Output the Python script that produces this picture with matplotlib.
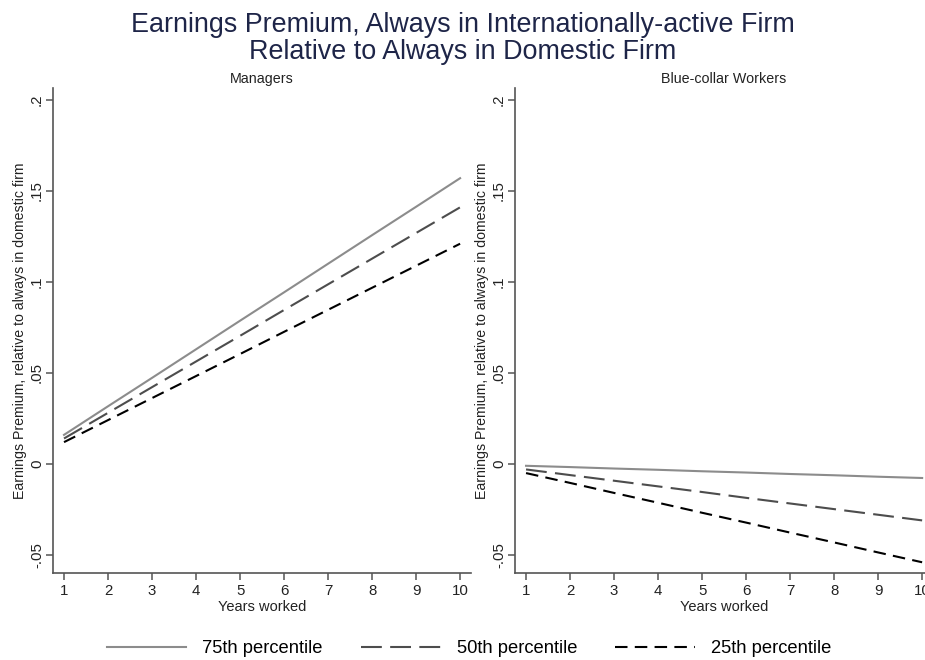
import matplotlib
matplotlib.use("Agg")
import matplotlib.pyplot as plt
from matplotlib.lines import Line2D

plt.rcParams['font.family'] = ['Liberation Sans', 'DejaVu Sans']

years = [1, 2, 3, 4, 5, 6, 7, 8, 9, 10]

# Managers
mgr_p75 = [0.0160, 0.0317, 0.0473, 0.0630, 0.0787, 0.0943, 0.1100, 0.1257, 0.1413, 0.1570]
mgr_p50 = [0.0140, 0.0281, 0.0422, 0.0563, 0.0704, 0.0846, 0.0987, 0.1128, 0.1269, 0.1410]
mgr_p25 = [0.0120, 0.0241, 0.0362, 0.0483, 0.0604, 0.0726, 0.0847, 0.0968, 0.1089, 0.1210]

# Blue-collar workers
blue_p75 = [-0.0010, -0.0017, -0.0025, -0.0032, -0.0040, -0.0047, -0.0055, -0.0062, -0.0070, -0.0077]
blue_p50 = [-0.0030, -0.0061, -0.0092, -0.0123, -0.0154, -0.0186, -0.0217, -0.0248, -0.0279, -0.0310]
blue_p25 = [-0.0050, -0.0104, -0.0159, -0.0213, -0.0268, -0.0322, -0.0377, -0.0431, -0.0486, -0.0540]

yticks = [-0.05, 0, 0.05, 0.1, 0.15, 0.2]
ytick_labels = ['-.05', '0', '.05', '.1', '.15', '.2']
series_labels = ['75th percentile', '50th percentile', '25th percentile']
panel_titles = ['Managers', 'Blue-collar Workers']

styles = [
    dict(color='#8c8c8c', linestyle='-', linewidth=1.5),
    dict(color='#4d4d4d', linestyle=(0, (10, 4)), linewidth=1.5),
    dict(color='#000000', linestyle=(0, (6, 3.5)), linewidth=1.5),
]

fig = plt.figure(figsize=(9.25, 6.6), dpi=100)
fig.patch.set_facecolor('white')

axes_pos = [[0.0573, 0.1318, 0.452, 0.735], [0.5568, 0.1318, 0.452, 0.735]]
panels = [(mgr_p75, mgr_p50, mgr_p25), (blue_p75, blue_p50, blue_p25)]
title_x = [0.2827, 0.782]

for pos, data, ttl, tx in zip(axes_pos, panels, panel_titles, title_x):
    ax = fig.add_axes(pos)
    for vals, st in zip(data, styles):
        ax.plot(years, vals, **st, clip_on=False)
    ax.set_xlim(0.75, 10.25)
    ax.set_ylim(-0.0599, 0.2066)
    ax.set_xticks(years)
    ax.set_xticklabels([str(y) for y in years], fontsize=10.8, color='#222222')
    ax.set_yticks(yticks)
    ax.set_yticklabels(ytick_labels, fontsize=10.8, color='#222222', rotation=90, va='center')
    for s in ['top', 'right']:
        ax.spines[s].set_visible(False)
    for s in ['left', 'bottom']:
        ax.spines[s].set_color('#555555')
        ax.spines[s].set_linewidth(1.2)
    ax.tick_params(axis='x', length=5, width=1.1, color='#555555', pad=3)
    ax.tick_params(axis='y', length=5, width=1.1, color='#555555', pad=1.5)
    ax.set_xlabel('Years worked', fontsize=10.5, color='#222222', labelpad=1)
    ax.set_ylabel('Earnings Premium, relative to always in domestic firm', fontsize=10.2,
                  color='#222222', labelpad=2)
    fig.text(tx, 0.874, ttl, ha='center', va='baseline', fontsize=10.3, color='#222222')

fig.text(0.5, 0.9515, 'Earnings Premium, Always in Internationally-active Firm',
         ha='center', va='baseline', fontsize=19.4, color='#1e2548')
fig.text(0.5, 0.9106, 'Relative to Always in Domestic Firm',
         ha='center', va='baseline', fontsize=19.4, color='#1e2548')

handles = [Line2D([0], [0], **st) for st in styles]
fig.legend(handles, series_labels, loc='center', bbox_to_anchor=(0.507, 0.017),
           ncol=3, frameon=False, fontsize=13.2, handlelength=4.36, columnspacing=2.07,
           handletextpad=0.87, borderaxespad=0, borderpad=0)

fig.savefig('out.png', dpi=100, facecolor='white')
